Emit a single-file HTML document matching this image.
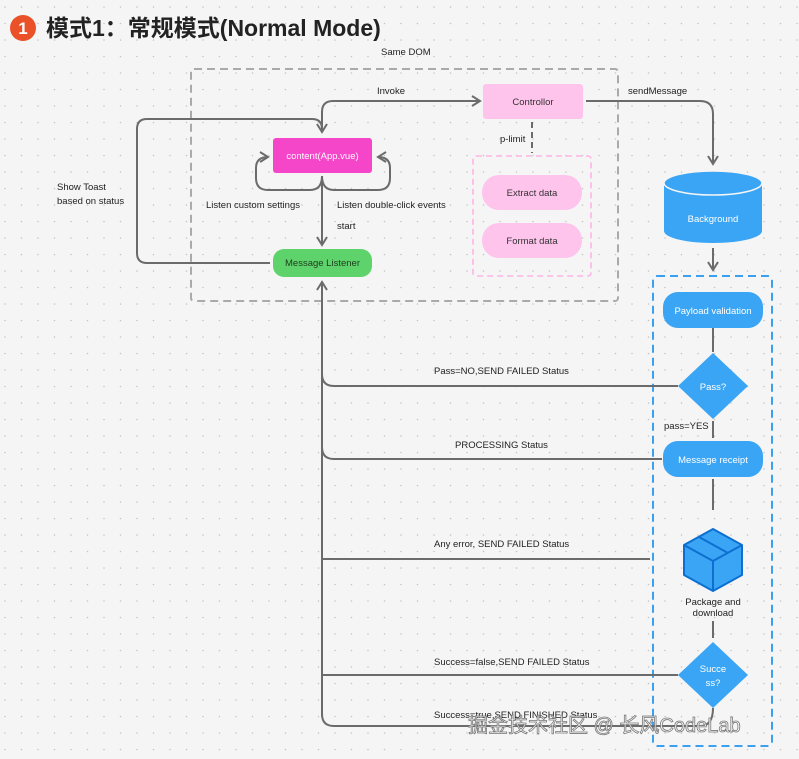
<!DOCTYPE html>
<html><head><meta charset="utf-8"><style>
html,body{margin:0;padding:0;background:#f5f5f5;}
svg{display:block;font-family:"Liberation Sans","Noto Sans CJK SC",sans-serif;}
</style></head><body>
<svg width="799" height="759" viewBox="0 0 799 759" xmlns="http://www.w3.org/2000/svg">
<defs>
<pattern id="dots" width="16.5" height="16.5" patternUnits="userSpaceOnUse" x="4" y="6">
<circle cx="1" cy="1" r="0.8" fill="#c4c4c4"/></pattern>
<marker id="ar" viewBox="0 0 12 12" refX="10" refY="6" markerWidth="12" markerHeight="12" markerUnits="userSpaceOnUse" orient="auto">
<path d="M2,1 L10,6 L2,11" fill="none" stroke="#6b6b6b" stroke-width="2"/></marker>
</defs>
<rect width="799" height="759" fill="#f5f5f5"/>
<rect width="799" height="759" fill="url(#dots)"/>

<circle cx="23" cy="28" r="13" fill="#ea5128"/>
<text x="23" y="34" font-size="17" font-weight="bold" fill="#fff" text-anchor="middle">1</text>
<text x="46" y="36" font-size="23" font-weight="bold" fill="#222">模式1：常规模式(Normal Mode)</text>

<g font-size="9.5" fill="#222">
<text x="381" y="55">Same DOM</text>
<text x="377" y="94">Invoke</text>
<text x="57" y="190">Show Toast</text>
<text x="57" y="204">based on status</text>
<text x="206" y="208">Listen custom settings</text>
<text x="337" y="208">Listen double-click events</text>
<text x="337" y="229">start</text>
<text x="500" y="142">p-limit</text>
<text x="628" y="94">sendMessage</text>
<text x="664" y="429">pass=YES</text>
<text x="434" y="374">Pass=NO,SEND FAILED Status</text>
<text x="455" y="448">PROCESSING Status</text>
<text x="434" y="547">Any error, SEND FAILED Status</text>
<text x="434" y="665">Success=false,SEND FAILED Status</text>
<text x="434" y="718">Success=true,SEND FINISHED Status</text>
<text x="713" y="605" text-anchor="middle">Package and</text>
<text x="713" y="616" text-anchor="middle">download</text>
</g>

<rect x="191" y="69" width="427" height="232" rx="3" fill="none" stroke="#aaa" stroke-width="2" stroke-dasharray="8,5"/>
<rect x="473" y="156" width="118" height="120" rx="3" fill="none" stroke="#ffb3e4" stroke-width="1.6" stroke-dasharray="6,4"/>
<rect x="653" y="276" width="119" height="470" rx="4" fill="none" stroke="#3aa0f0" stroke-width="2" stroke-dasharray="8,5"/>

<g fill="none" stroke="#6b6b6b" stroke-width="2">
<path d="M322,130 V112 Q322,101 333,101 H480" marker-end="url(#ar)"/>
<path d="M270,263 H147 Q137,263 137,253 V129 Q137,119 147,119 H312 Q322,119 322,129 V132" marker-end="url(#ar)"/>
<path d="M322,176 Q322,190 310,190 H268 Q256,190 256,178 V168 Q256,157 268,157" marker-end="url(#ar)"/>
<path d="M322,176 Q322,190 334,190 H378 Q390,190 390,178 V168 Q390,157 378,157" marker-end="url(#ar)"/>
<path d="M322,178 V245" marker-end="url(#ar)"/>
<path d="M586,101 H700 Q713,101 713,114 V164" marker-end="url(#ar)"/>
<path d="M713,248 V270" marker-end="url(#ar)"/>
<path d="M532,122 V153" stroke-dasharray="6,4"/>
<path d="M322,716 V282" marker-end="url(#ar)"/>
<path d="M713,328 V352"/><path d="M713,421 V438"/><path d="M713,479 V510"/><path d="M713,621 V638"/>
<path d="M678,386 H334 Q322,386 322,374"/>
<path d="M662,459 H334 Q322,459 322,447"/>
<path d="M650,559 H322"/>
<path d="M678,675 H322"/>
<path d="M713,708 Q713,726 700,726 H334 Q322,726 322,714"/>
</g>

<rect x="273" y="138" width="99" height="35" rx="3" fill="#f545c8"/>
<text x="322.5" y="159" font-size="9.5" fill="#fff" text-anchor="middle">content(App.vue)</text>
<rect x="273" y="249" width="99" height="28" rx="11" fill="#5fd36b"/>
<text x="322.5" y="266" font-size="9.5" fill="#1b3d1f" text-anchor="middle">Message Listener</text>
<rect x="483" y="84" width="100" height="35" rx="3" fill="#ffc4ec"/>
<text x="533" y="105" font-size="9.5" fill="#333" text-anchor="middle">Controllor</text>
<rect x="482" y="175" width="100" height="35" rx="17" fill="#ffc4ec"/>
<text x="532" y="196" font-size="9.5" fill="#333" text-anchor="middle">Extract data</text>
<rect x="482" y="223" width="100" height="35" rx="17" fill="#ffc4ec"/>
<text x="532" y="244" font-size="9.5" fill="#333" text-anchor="middle">Format data</text>

<path d="M664,183 V231 A49,12 0 0 0 762,231 V183 Z" fill="#3ba5f5"/>
<ellipse cx="713" cy="183" rx="49" ry="12" fill="#3ba5f5" stroke="#f5f5f5" stroke-width="1.5"/>
<text x="713" y="222" font-size="9.5" fill="#fff" text-anchor="middle">Background</text>

<rect x="663" y="292" width="100" height="36" rx="15" fill="#3ba5f5"/>
<text x="713" y="314" font-size="9.5" fill="#fff" text-anchor="middle">Payload validation</text>
<path d="M713,353 L748,386 L713,419 L678,386 Z" fill="#3ba5f5"/>
<text x="713" y="390" font-size="9.5" fill="#fff" text-anchor="middle">Pass?</text>
<rect x="663" y="441" width="100" height="36" rx="15" fill="#3ba5f5"/>
<text x="713" y="463" font-size="9.5" fill="#fff" text-anchor="middle">Message receipt</text>

<g stroke="#0d6fd1" stroke-width="2" stroke-linejoin="round">
<path d="M713,529 L742,545 L742,575 L713,591 L684,575 L684,545 Z" fill="#3ba5f5"/>
<path d="M684,545 L713,561 L742,545 M713,561 V591 M699,537 L728,553" fill="none"/>
</g>

<path d="M713,642 L748,675 L713,708 L678,675 Z" fill="#3ba5f5"/>
<text x="713" y="672" font-size="9.5" fill="#fff" text-anchor="middle">Succe</text>
<text x="713" y="686" font-size="9.5" fill="#fff" text-anchor="middle">ss?</text>

<text x="468" y="732" font-size="20" fill="#fff" stroke="#777" stroke-width="0.8" fill-opacity="0.85">掘金技术社区 @ 长风CodeLab</text>
</svg>
</body></html>
